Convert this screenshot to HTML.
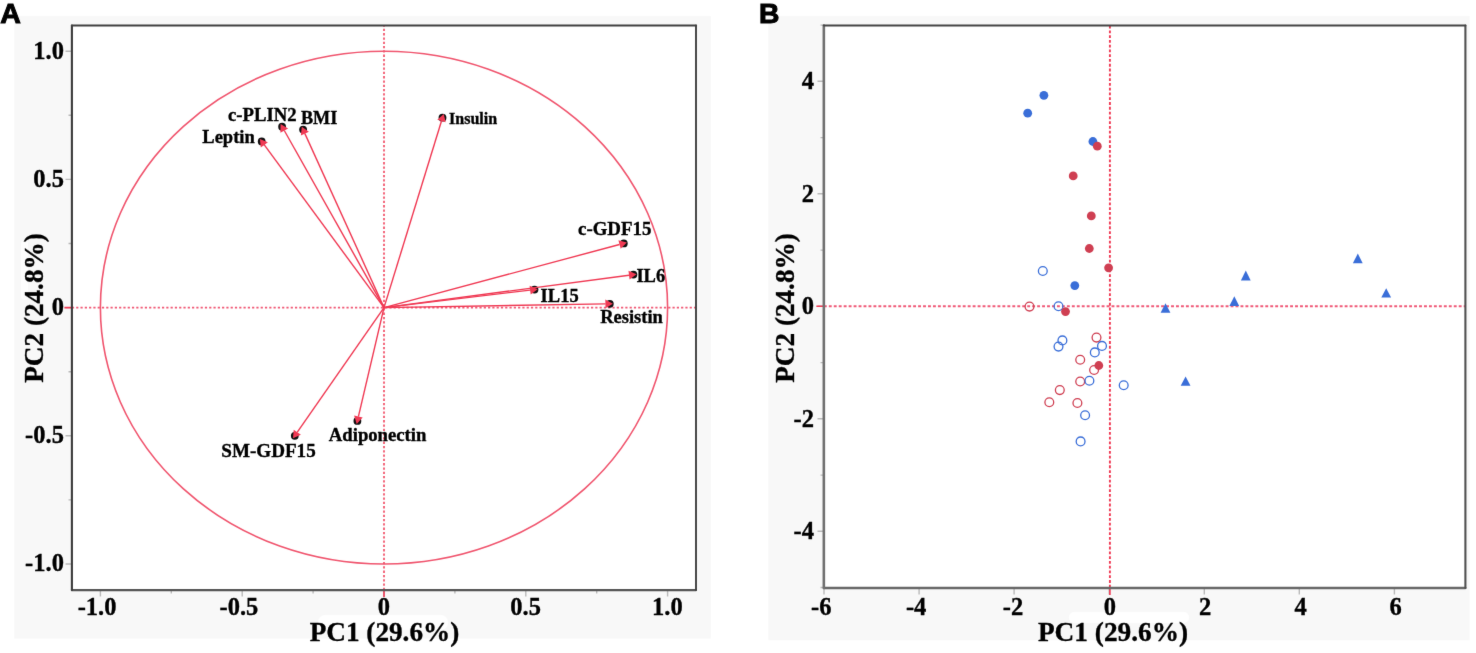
<!DOCTYPE html>
<html><head><meta charset="utf-8"><title>PCA</title>
<style>
html,body{margin:0;padding:0;background:#fff;}
body{width:1476px;height:653px;overflow:hidden;}
svg{display:block;will-change:transform}
text{font-family:"Liberation Serif",serif;font-weight:bold;fill:#000;stroke:#000;stroke-width:0.35px}
.sans{font-family:"Liberation Sans",sans-serif;font-weight:bold;stroke-width:1px}
.tk{font-size:24.5px}
.ax{font-size:27.2px}
.lb{font-size:18.5px}
</style></head><body>
<svg width="1476" height="653" viewBox="0 0 1476 653">
<defs><filter id="soft" x="0" y="0" width="100%" height="100%" filterUnits="userSpaceOnUse" color-interpolation-filters="sRGB"><feConvolveMatrix order="3" kernelMatrix="0.006 0.062 0.006 0.062 0.728 0.062 0.006 0.062 0.006" divisor="1" edgeMode="duplicate" preserveAlpha="true"/></filter></defs>
<g filter="url(#soft)">
<rect x="0" y="0" width="1476" height="653" fill="#fff"/>

<rect x="14.3" y="16" width="696.5" height="622.6" fill="#f8f8f8"/>
<rect x="768.3" y="16" width="701.3" height="624.3" fill="#f8f8f8"/>
<rect x="318" y="615" width="130" height="15" rx="7" fill="#fff" opacity="0.9"/>
<rect x="1069" y="612" width="120" height="11" rx="5" fill="#fff" opacity="0.9"/>
<rect x="21" y="240" width="7" height="60" rx="3.5" fill="#fff" opacity="0.7"/>
<text class="sans" x="0.2" y="23.2" font-size="28.5">A</text>
<text class="sans" x="759.1" y="22.9" font-size="28.3">B</text>
<rect x="71.9" y="25.5" width="624.1" height="564.6" fill="#fff"/>
<path d="M65.5 564.0H71.9 M100.4 590.1V596.5 M68.5 499.9H71.9 M171.3 590.1V593.5 M65.5 435.8H71.9 M242.2 590.1V596.5 M68.5 371.7H71.9 M313.1 590.1V593.5 M65.5 307.6H71.9 M384.0 590.1V596.5 M68.5 243.5H71.9 M454.9 590.1V593.5 M65.5 179.4H71.9 M525.8 590.1V596.5 M68.5 115.3H71.9 M596.7 590.1V593.5 M65.5 51.2H71.9 M667.6 590.1V596.5" stroke="#b9b9b9" stroke-width="1.4" fill="none"/>
<path d="M71.9 307.6H696.0" stroke="#f05a76" stroke-width="1.7" stroke-dasharray="2.2 2.09" fill="none"/>
<path d="M384.0 25.5V590.1" stroke="#f03a54" stroke-width="1.5" stroke-dasharray="2.3 2" stroke-dashoffset="1" fill="none"/>
<path d="M64.4 307.6H71.9M384.0 590.1V597.1" stroke="#f03a54" stroke-width="1.6" fill="none"/>
<ellipse cx="384.0" cy="307.6" rx="283.6" ry="256.4" fill="none" stroke="#f0566f" stroke-width="1.6"/>
<circle cx="261.7" cy="141.4" r="3.9" fill="#111"/>
<circle cx="282.1" cy="126.7" r="3.9" fill="#111"/>
<circle cx="303.1" cy="129.6" r="3.9" fill="#111"/>
<circle cx="442.5" cy="117.7" r="3.9" fill="#111"/>
<circle cx="623.8" cy="243.4" r="3.9" fill="#111"/>
<circle cx="633.4" cy="274.6" r="3.9" fill="#111"/>
<circle cx="534.5" cy="289.6" r="3.9" fill="#111"/>
<circle cx="609.8" cy="303.8" r="3.9" fill="#111"/>
<circle cx="294.8" cy="435.8" r="3.9" fill="#111"/>
<circle cx="357.4" cy="420.9" r="3.9" fill="#111"/>
<path d="M384.0 307.6L264.3 144.9" stroke="#f03a54" stroke-width="1.4" fill="none"/>
<path d="M259.9 138.9L267.9 142.3L260.8 147.6Z" fill="#f03a54"/>
<path d="M384.0 307.6L284.3 130.5" stroke="#f03a54" stroke-width="1.4" fill="none"/>
<path d="M280.6 124.0L288.1 128.4L280.4 132.7Z" fill="#f03a54"/>
<path d="M384.0 307.6L304.9 133.6" stroke="#f03a54" stroke-width="1.4" fill="none"/>
<path d="M301.8 126.8L308.9 131.8L300.9 135.4Z" fill="#f03a54"/>
<path d="M384.0 307.6L441.5 121.0" stroke="#f03a54" stroke-width="1.4" fill="none"/>
<path d="M443.7 113.9L445.7 122.3L437.3 119.7Z" fill="#f03a54"/>
<path d="M384.0 307.6L619.5 244.5" stroke="#f03a54" stroke-width="1.4" fill="none"/>
<path d="M626.8 242.6L620.7 248.8L618.4 240.3Z" fill="#f03a54"/>
<path d="M384.0 307.6L629.0 275.2" stroke="#f03a54" stroke-width="1.4" fill="none"/>
<path d="M636.5 274.2L629.6 279.5L628.5 270.8Z" fill="#f03a54"/>
<path d="M384.0 307.6L530.1 290.1" stroke="#f03a54" stroke-width="1.4" fill="none"/>
<path d="M537.6 289.2L530.7 294.5L529.6 285.8Z" fill="#f03a54"/>
<path d="M384.0 307.6L605.4 303.9" stroke="#f03a54" stroke-width="1.4" fill="none"/>
<path d="M612.9 303.7L605.5 308.3L605.3 299.5Z" fill="#f03a54"/>
<path d="M384.0 307.6L297.3 432.2" stroke="#f03a54" stroke-width="1.4" fill="none"/>
<path d="M293.0 438.3L293.7 429.7L300.9 434.7Z" fill="#f03a54"/>
<path d="M384.0 307.6L358.4 416.6" stroke="#f03a54" stroke-width="1.4" fill="none"/>
<path d="M356.7 423.9L354.1 415.6L362.7 417.6Z" fill="#f03a54"/>
<text x="202.3" y="142.7" font-size="18.5">Leptin</text>
<text x="228" y="120.6" font-size="18.7">c-PLIN2</text>
<text x="300.9" y="124" font-size="18.2">BMI</text>
<text x="449.1" y="123.5" font-size="16">Insulin</text>
<text x="578" y="235.3" font-size="18.9">c-GDF15</text>
<text x="636.4" y="281.8" font-size="18.5">IL6</text>
<text x="540.6" y="301.5" font-size="18.5">IL15</text>
<text x="600.2" y="322.6" font-size="18.5">Resistin</text>
<text x="221.3" y="456.8" font-size="19.1">SM-GDF15</text>
<text x="328.8" y="441.1" font-size="18.7">Adiponectin</text>
<path d="M71.9 590.1H696.0" stroke="#555" stroke-width="2.3" stroke-linecap="round"/>
<path d="M71.9 25.5V590.1" stroke="#3c3c3c" stroke-width="2.1" stroke-linecap="round"/>
<path d="M696.0 25.5V590.1" stroke="#404040" stroke-width="1.9" stroke-linecap="round"/>
<path d="M71.9 25.5H696.0" stroke="#404040" stroke-width="2" stroke-linecap="round"/>
<text class="tk" x="63.9" y="58.5" text-anchor="end">1.0</text>
<text class="tk" x="667.4" y="614.9" text-anchor="middle">1.0</text>
<text class="tk" x="63.9" y="186.7" text-anchor="end">0.5</text>
<text class="tk" x="525.6" y="614.9" text-anchor="middle">0.5</text>
<text class="tk" x="63.9" y="314.9" text-anchor="end">0</text>
<text class="tk" x="383.8" y="614.9" text-anchor="middle">0</text>
<text class="tk" x="63.9" y="443.1" text-anchor="end">-0.5</text>
<text class="tk" x="238.9" y="614.9" text-anchor="middle">-0.5</text>
<text class="tk" x="63.9" y="571.3" text-anchor="end">-1.0</text>
<text class="tk" x="97.1" y="614.9" text-anchor="middle">-1.0</text>
<text class="ax" x="384.5" y="641.4" text-anchor="middle">PC1 (29.6%)</text>
<text class="ax" transform="translate(43 308) rotate(-90)" text-anchor="middle">PC2 (24.8%)</text>
<rect x="823.85" y="25.6" width="641.5500000000001" height="562.4" fill="#fff"/>
<path d="M820.5 587.5H823.85 M817.5 531.3H823.85 M820.5 475.1H823.85 M817.5 418.8H823.85 M820.5 362.6H823.85 M817.5 306.3H823.85 M820.5 250.1H823.85 M817.5 193.8H823.85 M820.5 137.6H823.85 M817.5 81.3H823.85 M820.5 25.1H823.85 M824.0 588.0V594.5 M919.1 588.0V594.5 M1014.1 588.0V594.5 M1109.2 588.0V594.5 M1204.3 588.0V594.5 M1299.3 588.0V594.5 M1394.4 588.0V594.5" stroke="#b9b9b9" stroke-width="1.4" fill="none"/>
<path d="M823.85 306.3H1465.4" stroke="#f05a78" stroke-width="2.1" stroke-dasharray="2.9 2.06" fill="none"/>
<path d="M1109.9 25.6V588.0" stroke="#f03a54" stroke-width="1.9" stroke-dasharray="2.8 1.98" fill="none"/>
<path d="M816.35 306.3H823.85M1109.9 588.0V595.0" stroke="#f03a54" stroke-width="1.6" fill="none"/>
<circle cx="1096.5" cy="337.6" r="4.4" fill="none" stroke="#cf3f52" stroke-width="1.3"/>
<circle cx="1080.2" cy="359.7" r="4.4" fill="none" stroke="#cf3f52" stroke-width="1.3"/>
<circle cx="1094.1" cy="370" r="4.4" fill="none" stroke="#cf3f52" stroke-width="1.3"/>
<circle cx="1080.2" cy="381.5" r="4.4" fill="none" stroke="#cf3f52" stroke-width="1.3"/>
<circle cx="1059.8" cy="390.1" r="4.4" fill="none" stroke="#cf3f52" stroke-width="1.3"/>
<circle cx="1049.3" cy="402.3" r="4.4" fill="none" stroke="#cf3f52" stroke-width="1.3"/>
<circle cx="1077.4" cy="403" r="4.4" fill="none" stroke="#cf3f52" stroke-width="1.3"/>
<circle cx="1029.5" cy="306.6" r="4.4" fill="none" stroke="#cf3f52" stroke-width="1.3"/>
<circle cx="1062.4" cy="340.4" r="4.4" fill="none" stroke="#3a6ed8" stroke-width="1.3"/>
<circle cx="1058.5" cy="346.6" r="4.4" fill="none" stroke="#3a6ed8" stroke-width="1.3"/>
<circle cx="1102" cy="345.9" r="4.4" fill="none" stroke="#3a6ed8" stroke-width="1.3"/>
<circle cx="1094.8" cy="352.4" r="4.4" fill="none" stroke="#3a6ed8" stroke-width="1.3"/>
<circle cx="1089.4" cy="380.7" r="4.4" fill="none" stroke="#3a6ed8" stroke-width="1.3"/>
<circle cx="1123.7" cy="385.2" r="4.4" fill="none" stroke="#3a6ed8" stroke-width="1.3"/>
<circle cx="1085.1" cy="415.2" r="4.4" fill="none" stroke="#3a6ed8" stroke-width="1.3"/>
<circle cx="1080.6" cy="441.4" r="4.4" fill="none" stroke="#3a6ed8" stroke-width="1.3"/>
<circle cx="1042.8" cy="271" r="4.4" fill="none" stroke="#3a6ed8" stroke-width="1.3"/>
<circle cx="1058.5" cy="306.2" r="4.4" fill="none" stroke="#3a6ed8" stroke-width="1.3"/>
<circle cx="1043.9" cy="95.3" r="4.4" fill="#3a6ed8"/>
<circle cx="1027.7" cy="113.2" r="4.4" fill="#3a6ed8"/>
<circle cx="1092.9" cy="141.5" r="4.4" fill="#3a6ed8"/>
<circle cx="1074.8" cy="285.6" r="4.4" fill="#3a6ed8"/>
<circle cx="1097.3" cy="146.2" r="4.4" fill="#cf3f52"/>
<circle cx="1073.2" cy="175.9" r="4.4" fill="#cf3f52"/>
<circle cx="1091.3" cy="215.9" r="4.4" fill="#cf3f52"/>
<circle cx="1089.3" cy="248.5" r="4.4" fill="#cf3f52"/>
<circle cx="1108.6" cy="267.8" r="4.4" fill="#cf3f52"/>
<circle cx="1065.5" cy="311.6" r="4.4" fill="#cf3f52"/>
<circle cx="1098.8" cy="365.5" r="4.4" fill="#cf3f52"/>
<path d="M1165.5 303.2L1170.4 312.8H1160.6Z" fill="#3a6ed8"/>
<path d="M1234.3 296.3L1239.2 306.1H1229.3999999999999Z" fill="#3a6ed8"/>
<path d="M1245.8 270.6L1250.7 280.4H1240.8999999999999Z" fill="#3a6ed8"/>
<path d="M1357.8 253.5L1362.7 263.3H1352.8999999999999Z" fill="#3a6ed8"/>
<path d="M1386.2 288.3L1391.1000000000001 297.6H1381.3Z" fill="#3a6ed8"/>
<path d="M1185.6 376.5L1190.5 385.8H1180.6999999999998Z" fill="#3a6ed8"/>
<path d="M823.85 588.0H1465.4" stroke="#686868" stroke-width="2.3" stroke-linecap="round"/>
<path d="M823.85 25.6V588.0" stroke="#707070" stroke-width="2.6" stroke-linecap="round"/>
<path d="M1465.4 25.6V588.0" stroke="#505050" stroke-width="2.1" stroke-linecap="round"/>
<path d="M823.85 25.6H1465.4" stroke="#444" stroke-width="2" stroke-linecap="round"/>
<text class="tk" x="813.9" y="89.0" text-anchor="end">4</text>
<text class="tk" x="813.9" y="201.5" text-anchor="end">2</text>
<text class="tk" x="813.9" y="314.0" text-anchor="end">0</text>
<text class="tk" x="813.9" y="426.5" text-anchor="end">-2</text>
<text class="tk" x="813.9" y="539.0" text-anchor="end">-4</text>
<text class="tk" x="821.2" y="614.9" text-anchor="middle">-6</text>
<text class="tk" x="916.1" y="614.9" text-anchor="middle">-4</text>
<text class="tk" x="1013.0" y="614.9" text-anchor="middle">-2</text>
<text class="tk" x="1109.9" y="614.9" text-anchor="middle">0</text>
<text class="tk" x="1205.1" y="614.9" text-anchor="middle">2</text>
<text class="tk" x="1300.7" y="614.9" text-anchor="middle">4</text>
<text class="tk" x="1395.6" y="614.9" text-anchor="middle">6</text>
<text class="ax" x="1113" y="640.8" text-anchor="middle" style="font-size:27.3px">PC1 (29.6%)</text>
<text class="ax" transform="translate(793.8 308) rotate(-90)" text-anchor="middle">PC2 (24.8%)</text>
</g></svg></body></html>
